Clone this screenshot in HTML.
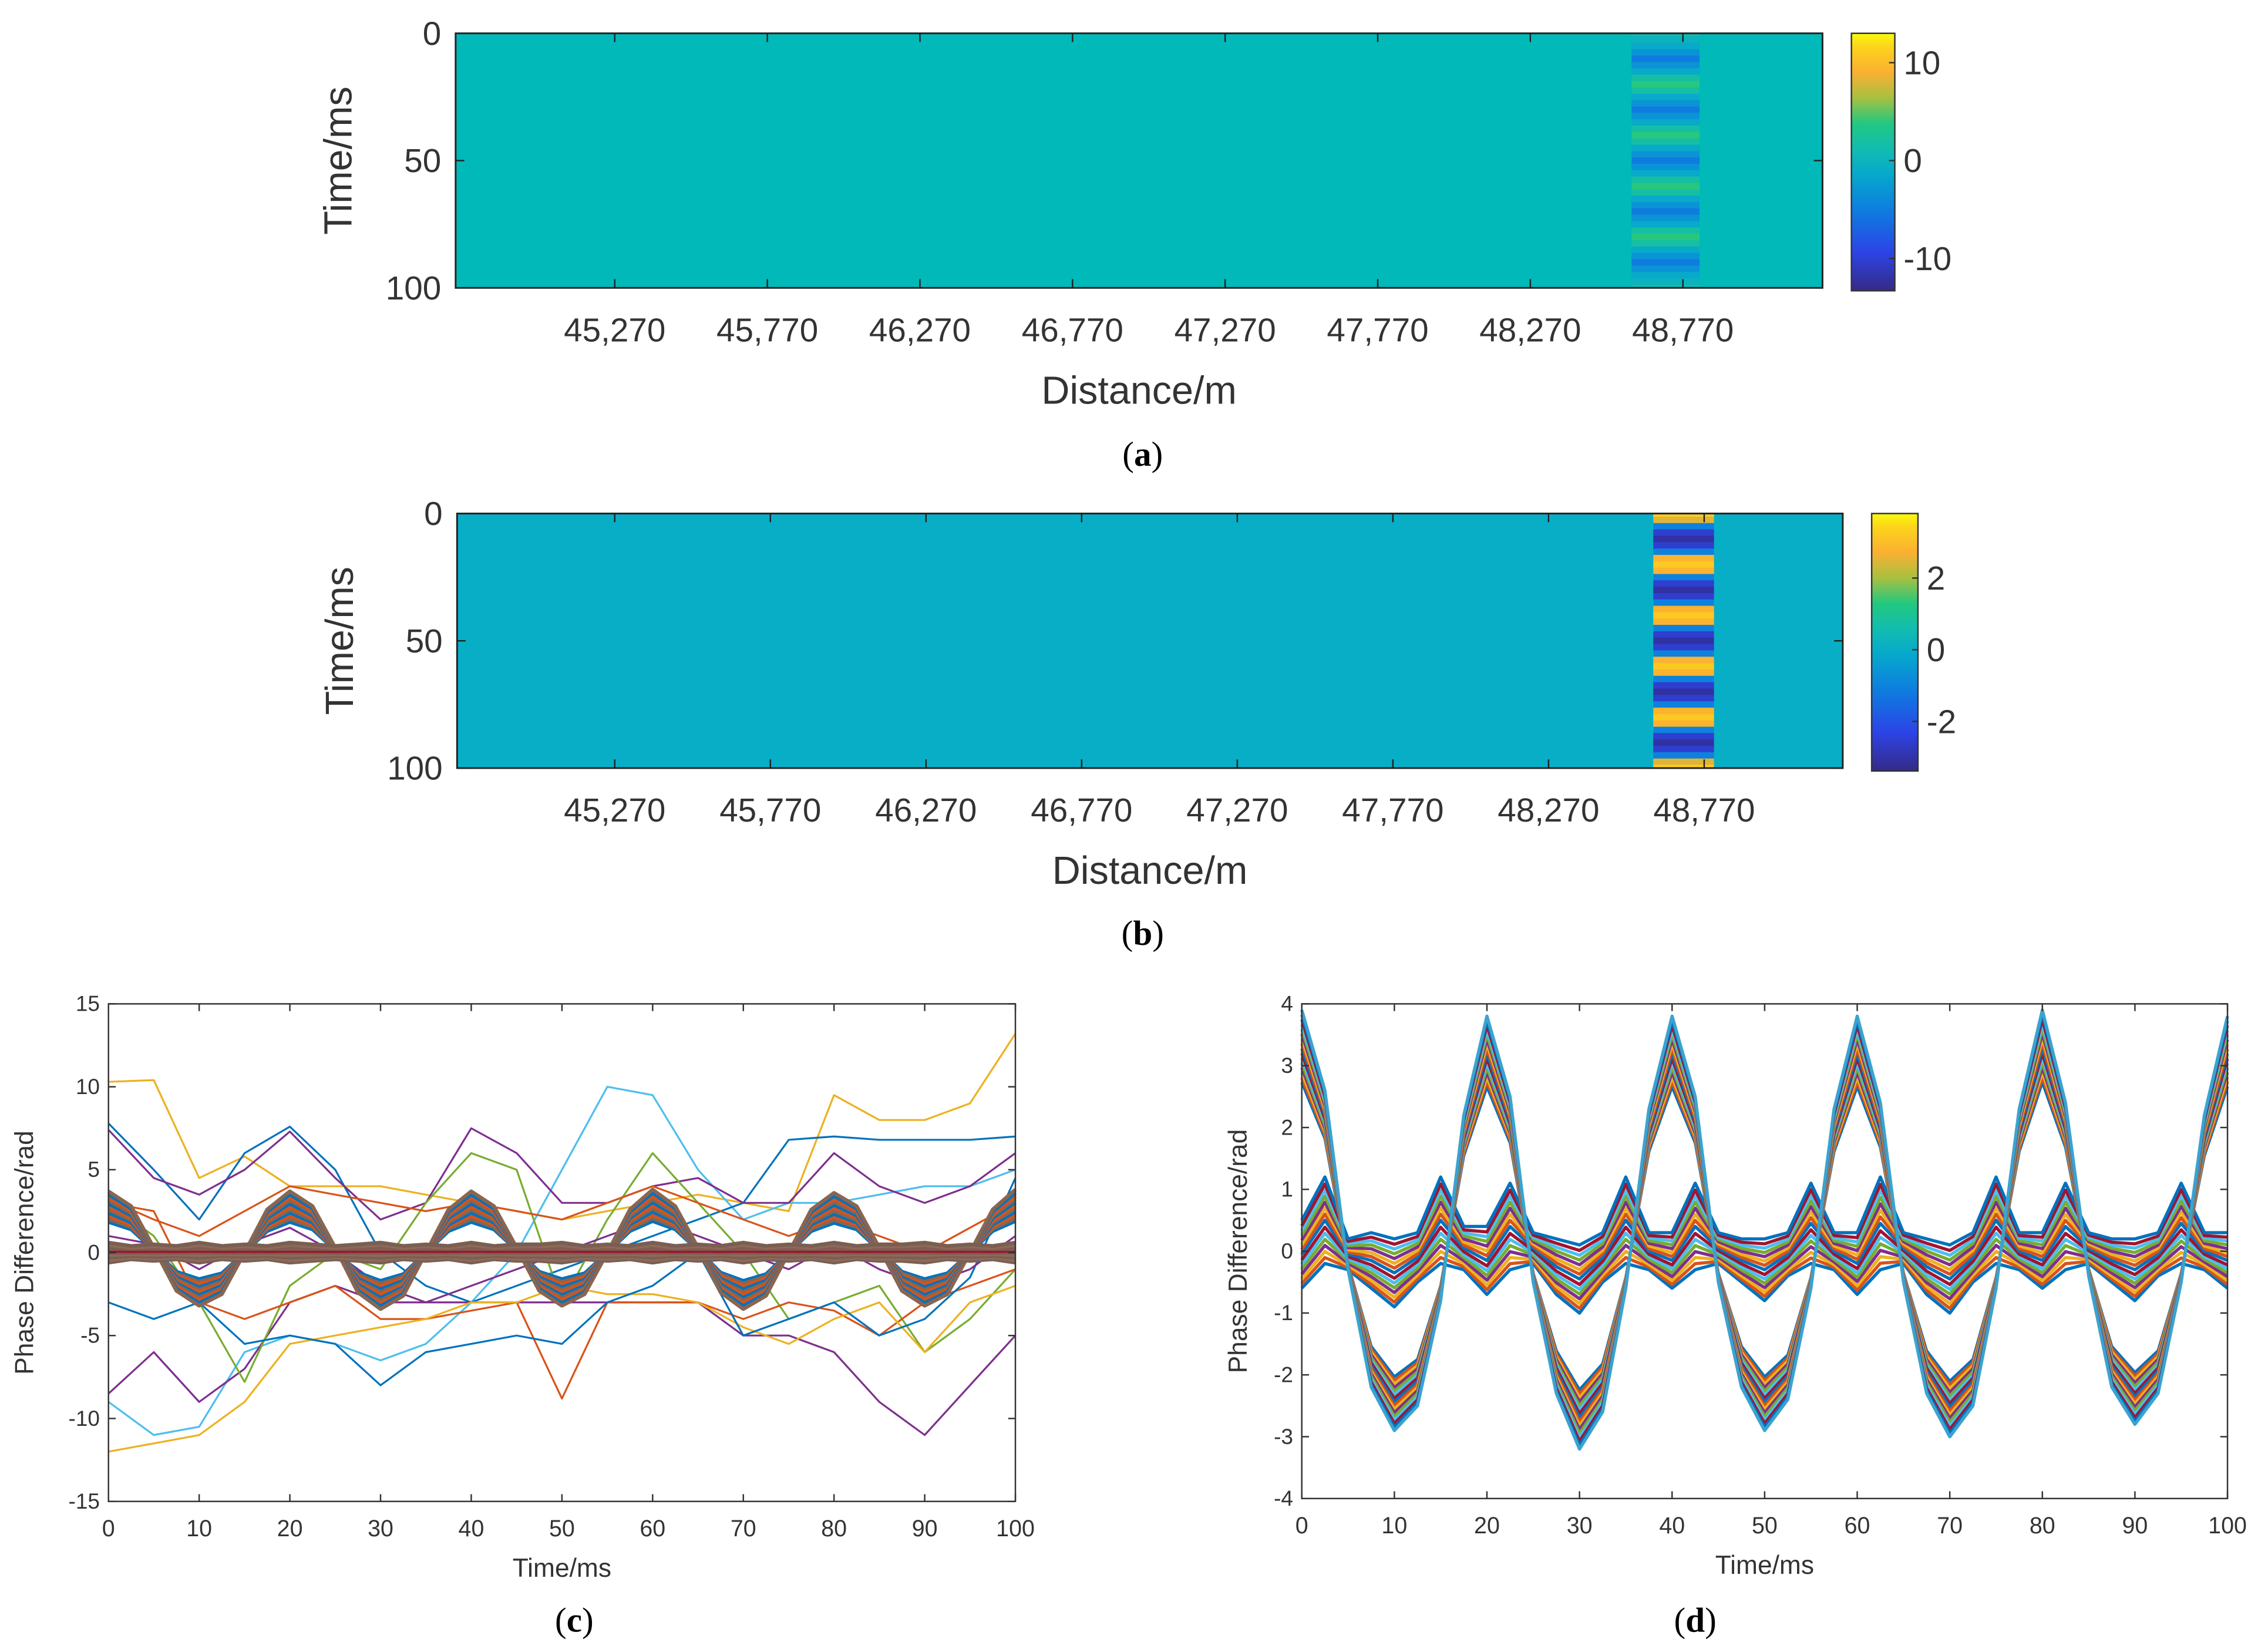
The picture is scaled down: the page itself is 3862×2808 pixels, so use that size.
<!DOCTYPE html>
<html><head><meta charset="utf-8">
<style>
html,body{margin:0;padding:0;background:#fff;}
svg{display:block;}
text{font-family:"Liberation Sans",sans-serif;fill:#333;}
.ser{font-family:"Liberation Serif",serif;fill:#000;}
</style></head>
<body>
<svg id="fig" width="3862" height="2808" viewBox="0 0 1568 1140" xmlns="http://www.w3.org/2000/svg">
<defs>
<linearGradient id="parula" x1="0" y1="1" x2="0" y2="0">
<stop offset="0" stop-color="#352a87"/><stop offset="0.15" stop-color="#2c44e6"/>
<stop offset="0.3" stop-color="#0f79e0"/><stop offset="0.45" stop-color="#06a8cc"/>
<stop offset="0.55" stop-color="#12bcb0"/><stop offset="0.65" stop-color="#22c880"/>
<stop offset="0.75" stop-color="#a8c040"/><stop offset="0.85" stop-color="#fbb032"/>
<stop offset="0.95" stop-color="#fdd51a"/><stop offset="1" stop-color="#f9fb0e"/>
</linearGradient>
</defs>
<g id="pa"></g>
<g id="pb"></g>
<g id="pc"></g>
<g id="pd"></g>
</svg>
<script>
// ---------- data ----------
const distTicks = ["45,270","45,770","46,270","46,770","47,270","47,770","48,270","48,770"];
const timeTicksHM = [0,50,100];
const stripeTimes = [0,2.5,5,7.5,10,12.5,15,17.5,20,22.5,25,27.5,30,32.5,35,37.5,40,42.5,45,47.5,50,52.5,55,57.5,60,62.5,65,67.5,70,72.5,75,77.5,80,82.5,85,87.5,90,92.5,95,97.5,100];
const stripeValsA = [1,0,-1,-3,-5,-3,-1,2,4,2,-1,-3,-5,-3,-1,2,4,2,-1,-3,-5,-3,-1,2,4,2,-1,-3,-5,-3,-1,2,4,2,-1,-3,-5,-3,-1,0,1];
const stripeValsB = [3.3,2.5,-1,-2.5,-3,-2.5,-1,2.8,3.2,2.8,-1,-2.5,-3,-2.5,-1,2.8,3.2,2.8,-1,-2.5,-3,-2.5,-1,2.8,3.2,2.8,-1,-2.5,-3,-2.5,-1,2.8,3.2,2.8,-1,-2.5,-3,-2.5,-1,2.5,3.3];
const cbTicksA = [10,0,-10];
const cbTicksB = [2,0,-2];
const tc = [0,5,10,15,20,25,30,35,40,45,50,55,60,65,70,75,80,85,90,95,100];
const tc2 = [0,2.5,5,7.5,10,12.5,15,17.5,20,22.5,25,27.5,30,32.5,35,37.5,40,42.5,45,47.5,50,52.5,55,57.5,60,62.5,65,67.5,70,72.5,75,77.5,80,82.5,85,87.5,90,92.5,95,97.5,100];
const cWave = [3.7,2.8,0.3,-2.3,-3.2,-2.5,0,2.6,3.7,2.8,0.3,-2.4,-3.4,-2.6,0,2.6,3.7,2.8,0.3,-2.3,-3.2,-2.5,0,2.6,3.8,2.8,0.3,-2.4,-3.4,-2.6,0,2.6,3.6,2.8,0.3,-2.3,-3.2,-2.5,0,2.6,3.8];
const cBandScale = [0.5,0.55,0.6,0.65,0.7,0.75,0.8,0.85,0.9,0.95,1.0];
const cNear = [0.6,0.4,0.5,0.4,0.6,0.4,0.5,0.4,0.6,0.5,0.4,0.5,0.6,0.4,0.5,0.4,0.6,0.4,0.5,0.5,0.6,0.4,0.5,0.4,0.6,0.4,0.5,0.4,0.6,0.4,0.5,0.4,0.6,0.4,0.5,0.5,0.6,0.4,0.5,0.4,0.6];
const cNearScale = [-1,-0.75,-0.5,-0.25,0,0.25,0.5,0.75,1];
const cLine1 = [10.3,10.4,4.5,5.8,4,4,4,3.5,3,2.5,2,2.5,3,3.5,3,2.5,9.5,8,8,9,13.2];
const cLine2 = [-9,-11,-10.5,-6,-5,-5.5,-6.5,-5.5,-3,0,5,10,9.5,5,2,3,3,3.5,4,4,5];
const cLine3 = [7.8,5,2,6,7.6,5,0,-2,-3,-2,-1,0,1,2,3,6.8,7,6.8,6.8,6.8,7];
const cLine4 = [7.4,4.5,3.5,5,7.3,4.5,2,3,7.5,6,3,3,4,4.5,3,3,6,4,3,4,6];
const cLine5 = [-8.5,-6,-9,-7,-3,-2,-3,-3,-3,-3,-3,-3,-3,-3,-5,-5,-6,-9,-11,-8,-5];
const cLine6 = [3,1,-3,-7.8,-2,0,-1,3,6,5,-3,2,6,3,0,-4,-3,-2,-6,-4,-1];
const cLine7 = [3,2.5,-3,-4,-3,-2,-4,-4,-3.5,-3,-8.8,-3,-3,-3,-4,-3,-3.5,-5,-3,-2,-1];
const cLine8 = [-12,-11.5,-11,-9,-5.5,-5,-4.5,-4,-3,-3,-2,-2.5,-2.5,-3,-4.5,-5.5,-4,-3,-6,-3,-2];
const cLine9 = [-3,-4,-3,-5.5,-5,-5.5,-8,-6,-5.5,-5,-5.5,-3,-2,0,-5,-4,-3,-5,-4,-1.5,4.5];
const cLine10 = [3.2,2,1,2.5,4,3.5,3,2.5,3,2.5,2,3,4,3,2,1,2,1,0,1.5,3];
const cLine11 = [1,0.5,-1,0.5,1.5,0,-2,-3,-2,-1,0,1,2,1,0,-1,0.5,-1,-2,-1,1];
const td = tc2;
const dWave = [3.9,2.6,-0.3,-2.2,-2.9,-2.5,-0.8,2.2,3.8,2.5,-0.5,-2.3,-3.2,-2.6,-0.6,2.3,3.8,2.5,-0.5,-2.2,-2.9,-2.4,-0.6,2.3,3.8,2.4,-0.5,-2.3,-3.0,-2.5,-0.6,2.3,3.9,2.4,-0.4,-2.2,-2.8,-2.3,-0.5,2.2,3.8];
const dWaveScale = [0.7,0.72,0.74,0.76,0.78,0.8,0.82,0.84,0.86,0.88,0.9,0.92,0.94,0.96,0.98,1.0];
const dUpper = [0.5,1.2,0.2,0.3,0.2,0.3,1.2,0.4,0.4,1.1,0.3,0.2,0.1,0.3,1.2,0.3,0.3,1.1,0.3,0.2,0.2,0.3,1.1,0.3,0.3,1.2,0.3,0.2,0.1,0.3,1.2,0.3,0.3,1.1,0.3,0.2,0.2,0.3,1.1,0.3,0.3];
const dLower = [-0.6,-0.2,-0.3,-0.6,-0.9,-0.5,-0.2,-0.3,-0.7,-0.3,-0.2,-0.7,-1.0,-0.5,-0.2,-0.3,-0.6,-0.3,-0.2,-0.5,-0.8,-0.4,-0.2,-0.3,-0.7,-0.3,-0.2,-0.7,-1.0,-0.5,-0.2,-0.3,-0.6,-0.3,-0.2,-0.5,-0.8,-0.4,-0.2,-0.3,-0.6];
const dMix = [0,0.07,0.14,0.21,0.28,0.35,0.42,0.5,0.57,0.64,0.71,0.78,0.85,0.92,1];
const cTicksY = [15,10,5,0,-5,-10,-15];
const dTicksY = [4,3,2,1,0,-1,-2,-3,-4];
const timeTicks = [0,10,20,30,40,50,60,70,80,90,100];
const colors = ["#0072BD","#D95319","#EDB120","#7E2F8E","#77AC30","#4DBEEE","#A2142F"];

// ---------- helpers ----------
const NS="http://www.w3.org/2000/svg";
function mk(parent,tag,attrs,txt){const e=document.createElementNS(NS,tag);for(const k in attrs)e.setAttribute(k,attrs[k]);if(txt!==undefined)e.textContent=txt;parent.appendChild(e);return e;}
const stops=[[0,[53,42,135]],[0.15,[44,68,230]],[0.3,[15,121,224]],[0.45,[6,168,204]],[0.55,[18,188,176]],[0.65,[34,200,128]],[0.75,[168,192,64]],[0.85,[251,176,50]],[0.95,[253,213,26]],[1,[249,251,14]]];
function cmap(f){f=Math.max(0,Math.min(1,f));for(let i=1;i<stops.length;i++){if(f<=stops[i][0]){const a=stops[i-1],b=stops[i];const u=(f-a[0])/(b[0]-a[0]);const c=a[1].map((v,j)=>Math.round(v+u*(b[1][j]-v)));return`rgb(${c[0]},${c[1]},${c[2]})`;}}return"rgb(249,251,14)";}

function heatmap(g,o){
  const ty=t=>o.y0+(t/100)*(o.y1-o.y0);
  const r=mk(g,"rect",{x:o.x0,y:o.y0,width:o.x1-o.x0,height:o.y1-o.y0,fill:o.bg});
  
  
  const dt=stripeTimes[1]-stripeTimes[0];
  o.vals.forEach((v,i)=>{
    const t=stripeTimes[i];
    const y0=ty(Math.max(0,t-dt/2)),y1=ty(Math.min(100,t+dt/2));
    const c=mk(g,"rect",{x:o.sx0,y:y0,width:o.sx1-o.sx0,height:y1-y0+0.3,fill:cmap((v-o.vmin)/(o.vmax-o.vmin))});
    
    
  });
  const fr=mk(g,"rect",{x:o.x0,y:o.y0,width:o.x1-o.x0,height:o.y1-o.y0,fill:"none",stroke:"#222","stroke-width":1.2});
  
  
  timeTicksHM.forEach(t=>{
    const y=ty(t);
    mk(g,"line",{x1:o.x0,x2:o.x0+6,y1:y,y2:y,stroke:"#222"});
    mk(g,"line",{x1:o.x1,x2:o.x1-6,y1:y,y2:y,stroke:"#222"});
    const tx=mk(g,"text",{x:o.x0-10,y:y+8,"font-size":23,"text-anchor":"end"},t);
    
    
  });
  distTicks.forEach((d,i)=>{
    const x=o.xt0+i*o.xts;
    mk(g,"line",{x1:x,x2:x,y1:o.y0,y2:o.y0+6,stroke:"#222"});
    mk(g,"line",{x1:x,x2:x,y1:o.y1,y2:o.y1-6,stroke:"#222"});
    const tx=mk(g,"text",{x:x,y:o.y1+37,"font-size":23,"text-anchor":"middle"},d);
    
    
  });
  const xl=mk(g,"text",{x:(o.x0+o.x1)/2,y:o.y1+80,"font-size":27,"text-anchor":"middle"},"Distance/m");
  
  
  const yl=mk(g,"text",{x:0,y:0,"font-size":27,"text-anchor":"middle",transform:`translate(${o.x0-72},${(o.y0+o.y1)/2}) rotate(-90)`},"Time/ms");
  
  
  const cb=mk(g,"rect",{x:o.cx,y:o.y0,width:o.cw,height:o.y1-o.y0+2,fill:"url(#parula)",stroke:"#333","stroke-width":1});
  
  
  o.cbt.forEach(v=>{
    const y=o.y0+(o.vmax-v)/(o.vmax-o.vmin)*(o.y1-o.y0);
    mk(g,"line",{x1:o.cx+o.cw-4,x2:o.cx+o.cw,y1:y,y2:y,stroke:"#333"});
    const tx=mk(g,"text",{x:o.cx+o.cw+6,y:y+8,"font-size":23},v);
    
    
  });
  const cap=mk(g,"text",{x:o.capx,y:o.capy,"font-size":24,"text-anchor":"middle",class:"ser"});
  cap.innerHTML=`(<tspan font-weight="bold">${o.cap}</tspan>)`;
  
  
}

heatmap(document.getElementById('pa'),{x0:315,x1:1260,y0:23,y1:199,bg:"#00b9b8",sx0:1128,sx1:1175,vals:stripeValsA,vmin:-13,vmax:13,xt0:425,xts:105.5,cx:1280,cw:30,cbt:cbTicksA,cap:"a",capx:790,capy:322});
heatmap(document.getElementById('pb'),{x0:316,x1:1274,y0:355,y1:531,bg:"#08aec6",sx0:1143,sx1:1185,vals:stripeValsB,vmin:-3.3,vmax:3.8,xt0:425,xts:107.6,cx:1294,cw:32,cbt:cbTicksB,cap:"b",capx:790,capy:653});

function linePanel(g,o){
  const X=t=>o.x0+t/100*(o.x1-o.x0);
  const Y=v=>o.y1-(v-o.vmin)/(o.vmax-o.vmin)*(o.y1-o.y0);
  const plot=(ts,vals,col,w,name)=>{
    const p=mk(g,"polyline",{points:vals.map((v,i)=>X(ts[i]).toFixed(1)+","+Y(v).toFixed(1)).join(" "),fill:"none",stroke:col,"stroke-width":w,"stroke-linejoin":"round"});
    
    
  };
  o.draw(plot);
  const fr=mk(g,"rect",{x:o.x0,y:o.y0,width:o.x1-o.x0,height:o.y1-o.y0,fill:"none",stroke:"#333","stroke-width":1});
  
  
  o.yt.forEach(v=>{
    const y=Y(v);
    mk(g,"line",{x1:o.x0,x2:o.x0+5,y1:y,y2:y,stroke:"#333"});
    mk(g,"line",{x1:o.x1,x2:o.x1-5,y1:y,y2:y,stroke:"#333"});
    const tx=mk(g,"text",{x:o.x0-6,y:y+5,"font-size":15,"text-anchor":"end"},v);
    
    
  });
  timeTicks.forEach(t=>{
    const x=X(t);
    mk(g,"line",{x1:x,x2:x,y1:o.y1,y2:o.y1-5,stroke:"#333"});
    mk(g,"line",{x1:x,x2:x,y1:o.y0,y2:o.y0+5,stroke:"#333"});
    const tx=mk(g,"text",{x:x,y:o.y1+24,"font-size":16,"text-anchor":"middle"},t);
    
    
  });
  const xl=mk(g,"text",{x:(o.x0+o.x1)/2,y:o.y1+52,"font-size":18,"text-anchor":"middle"},"Time/ms");
  
  
  const yl=mk(g,"text",{x:0,y:0,"font-size":18,"text-anchor":"middle",transform:`translate(${o.x0-o.yo},${(o.y0+o.y1)/2}) rotate(-90)`},"Phase Difference/rad");
  
  
  const cap=mk(g,"text",{x:o.capx,y:1128,"font-size":24,"text-anchor":"middle",class:"ser"});
  cap.innerHTML=`(<tspan font-weight="bold">${o.cap}</tspan>)`;
  
  
}

linePanel(document.getElementById('pc'),{x0:75,x1:702,y0:694,y1:1038,vmin:-15,vmax:15,yt:cTicksY,yo:52,cap:"c",capx:397,
 draw:(plot)=>{
  const indiv=[cLine1,cLine2,cLine3,cLine4,cLine5,cLine6,cLine7,cLine8,cLine9,cLine10,cLine11];
  const icol=["#EDB120","#4DBEEE","#0072BD","#7E2F8E","#7E2F8E","#77AC30","#D95319","#EDB120","#0072BD","#D95319","#7E2F8E"];
  indiv.forEach((a,i)=>plot(tc,a,icol[i],1.3,"series-line"));
  cBandScale.forEach((s,k)=>plot(tc2,cWave.map(v=>v*s),k%3===0?"#0072BD":(k%3===1?"#8a6550":"#D95319"),2.6,"wave-band-line"));
  cNearScale.forEach((s,k)=>plot(tc2,cNear.map(v=>v*s),k%2?"#8c6a5a":"#7b5e52",2.6,"near-zero-band"));
  plot(tc2,cNear.map(v=>v*0.1),"#A2142F",1.5,"near-zero-center");
 }});

linePanel(document.getElementById('pd'),{x0:900,x1:1540,y0:694,y1:1036,vmin:-4,vmax:4,yt:dTicksY,yo:38,cap:"d",capx:1172,
 draw:(plot)=>{
  dMix.forEach((f,k)=>plot(td,dLower.map((v,i)=>v+f*(dUpper[i]-v)),colors[k%7],2.2,"small-band-line"));
  dWaveScale.forEach((s,k)=>plot(td,dWave.map(v=>v*s),colors[k%7],2,"wave-line"));
  plot(td,dWave,"#3aa3d0",2.2,"wave-line-outer");
 }});
</script>
</body></html>
